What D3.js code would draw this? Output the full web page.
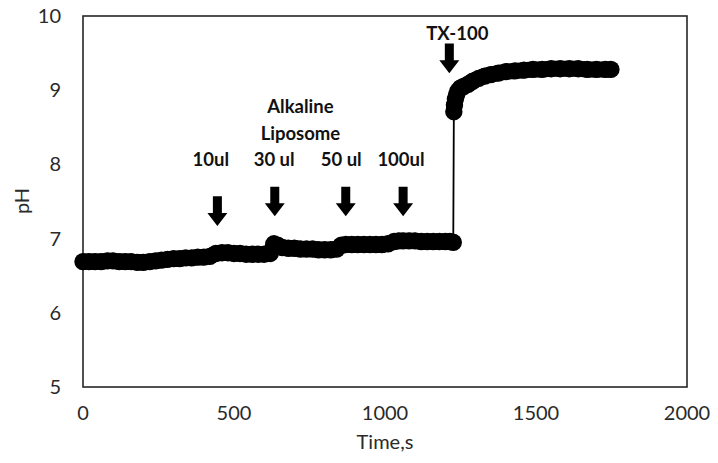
<!DOCTYPE html>
<html>
<head>
<meta charset="utf-8">
<script src="https://cdn.jsdelivr.net/npm/d3@7"></script>
<style>
  html, body { margin: 0; padding: 0; background: #fff; }
  svg { display: block; }
</style>
</head>
<body>
<svg id="chart" width="718" height="463"></svg>
<script>
// ---- data ----
const timeS = [
  0, 20, 40, 60, 80, 100, 120, 140, 160, 180, 200, 220, 240,
  260, 280, 300, 320, 340, 360, 380, 400, 420, 440, 460, 480, 500,
  520, 540, 560, 580, 600, 620, 632, 645, 660, 680, 700, 720, 740,
  760, 780, 800, 820, 840, 855, 870, 890, 910, 930, 950, 970, 990,
  1010, 1030, 1045, 1060, 1080, 1100, 1120, 1140, 1160, 1180, 1200, 1215, 1226,
  1228, 1230, 1233, 1237, 1242, 1250, 1260, 1275, 1290, 1310, 1330, 1350,
  1375, 1400, 1430, 1460, 1490, 1520, 1550, 1580, 1610, 1640, 1670, 1700, 1730, 1748
];
const pHValues = [
  6.69, 6.69, 6.69, 6.69, 6.70, 6.70, 6.69, 6.69, 6.69, 6.68, 6.68, 6.69, 6.70,
  6.71, 6.72, 6.73, 6.73, 6.74, 6.74, 6.75, 6.75, 6.76, 6.80, 6.81, 6.81, 6.80,
  6.80, 6.79, 6.79, 6.79, 6.79, 6.80, 6.93, 6.91, 6.88, 6.87, 6.87, 6.86, 6.86,
  6.86, 6.85, 6.85, 6.85, 6.86, 6.91, 6.92, 6.92, 6.92, 6.92, 6.92, 6.92, 6.92,
  6.93, 6.96, 6.97, 6.97, 6.97, 6.97, 6.96, 6.96, 6.96, 6.96, 6.96, 6.96, 6.95,
  8.71, 8.80, 8.88, 8.94, 8.99, 9.03, 9.05, 9.08, 9.12, 9.16, 9.19, 9.21,
  9.23, 9.25, 9.26, 9.27, 9.28, 9.28, 9.29, 9.29, 9.29, 9.29, 9.28, 9.28, 9.28, 9.28
];
const xTicks = [0, 500, 1000, 1500, 2000];
const yTicks = [5, 6, 7, 8, 9, 10];

// annotations
const addLabels = ["10ul", "30 ul", "50 ul", "100ul"];
const addTimes = [445, 635, 870, 1060];      // arrow positions (s)
const arrowTopPH = [7.57, 7.70, 7.70, 7.70];
const arrowTipPH = [7.17, 7.30, 7.30, 7.30];
const labelTimes = [423, 633, 855, 1053];
const txLabel = "TX-100";
const txTime = 1213;
const txTopPH = 9.63, txTipPH = 9.23;
const titleLines = ["Alkaline", "Liposome"];
const titleTime = 720;

// ---- layout ----
const svg = d3.select("#chart");
const mLeft = 83, mRight = 687, mTop = 16, mBottom = 387;
const x = d3.scaleLinear().domain([0, 2000]).range([mLeft, mRight]);
const y = d3.scaleLinear().domain([5, 10]).range([mBottom, mTop]);
const FONT = "Lato, 'Open Sans', sans-serif";

// plot border
svg.append("rect")
  .attr("x", mLeft).attr("y", mTop)
  .attr("width", mRight - mLeft).attr("height", mBottom - mTop)
  .attr("fill", "none").attr("stroke", "#262626").attr("stroke-width", 1.6);

// y tick labels
svg.append("g").selectAll("text").data(yTicks).join("text")
  .attr("x", mLeft - 22).attr("y", d => y(d))
  .attr("dy", "0.35em").attr("text-anchor", "end")
  .attr("font-family", FONT).attr("font-size", 20).attr("fill", "#2a2a2a")
  .text(d => d);

// x tick labels
svg.append("g").selectAll("text").data(xTicks).join("text")
  .attr("x", d => x(d)).attr("y", mBottom + 26)
  .attr("dy", "0.35em").attr("text-anchor", "middle")
  .attr("font-family", FONT).attr("font-size", 20).attr("fill", "#2a2a2a")
  .text(d => d);

// axis titles
svg.append("text")
  .attr("x", (mLeft + mRight) / 2).attr("y", 442)
  .attr("dy", "0.35em").attr("text-anchor", "middle")
  .attr("font-family", FONT).attr("font-size", 20).attr("fill", "#2a2a2a")
  .text("Time,s");
svg.append("text")
  .attr("transform", "translate(22,201) rotate(-90)")
  .attr("dy", "0.35em").attr("text-anchor", "middle")
  .attr("font-family", FONT).attr("font-size", 20).attr("fill", "#2a2a2a")
  .text("pH");

// data
const data = timeS.map((t, i) => ({ t, v: pHValues[i] }));
const lineGen = d3.line().x(d => x(d.t)).y(d => y(d.v));
// thin connecting line (visible at the jump)
svg.append("path").datum(data)
  .attr("d", lineGen)
  .attr("fill", "none").attr("stroke", "#000").attr("stroke-width", 1.8);
// dense markers: split into continuous segments and draw a marker band
const segments = [];
let cur = [data[0]];
for (let i = 1; i < data.length; i++) {
  if (Math.abs(data[i].v - data[i - 1].v) > 1) { segments.push(cur); cur = []; }
  cur.push(data[i]);
}
segments.push(cur);
svg.append("g").selectAll("path").data(segments).join("path")
  .attr("d", lineGen)
  .attr("fill", "none").attr("stroke", "#000").attr("stroke-width", 16)
  .attr("stroke-linecap", "round").attr("stroke-linejoin", "round");
svg.append("g").selectAll("circle").data(data).join("circle")
  .attr("cx", d => x(d.t)).attr("cy", d => y(d.v)).attr("r", 8.7)
  .attr("fill", "#000");

// arrows
function arrow(cx, yTop, yTip) {
  const shaftW = 9, headW = 20, headH = 13;
  const yHead = yTip - headH;
  const pts = [
    [cx - shaftW / 2, yTop], [cx + shaftW / 2, yTop], [cx + shaftW / 2, yHead],
    [cx + headW / 2, yHead], [cx, yTip], [cx - headW / 2, yHead], [cx - shaftW / 2, yHead]
  ];
  svg.append("path").attr("d", d3.line()(pts) + "Z").attr("fill", "#000");
}
addTimes.forEach((t, i) => arrow(x(t), y(arrowTopPH[i]), y(arrowTipPH[i])));
arrow(x(txTime), y(txTopPH), y(txTipPH));

// annotation labels
const ann = svg.append("g").attr("font-family", FONT).attr("font-weight", "bold")
  .attr("font-size", 18.5).attr("fill", "#111").attr("text-anchor", "middle");
addLabels.forEach((s, i) => ann.append("text").attr("x", x(labelTimes[i])).attr("y", 166).text(s));
titleLines.forEach((s, i) => ann.append("text").attr("x", x(titleTime)).attr("y", 113 + i * 27).text(s));
ann.append("text").attr("x", x(txTime) + 8).attr("y", 40).text(txLabel);
</script>
</body>
</html>
